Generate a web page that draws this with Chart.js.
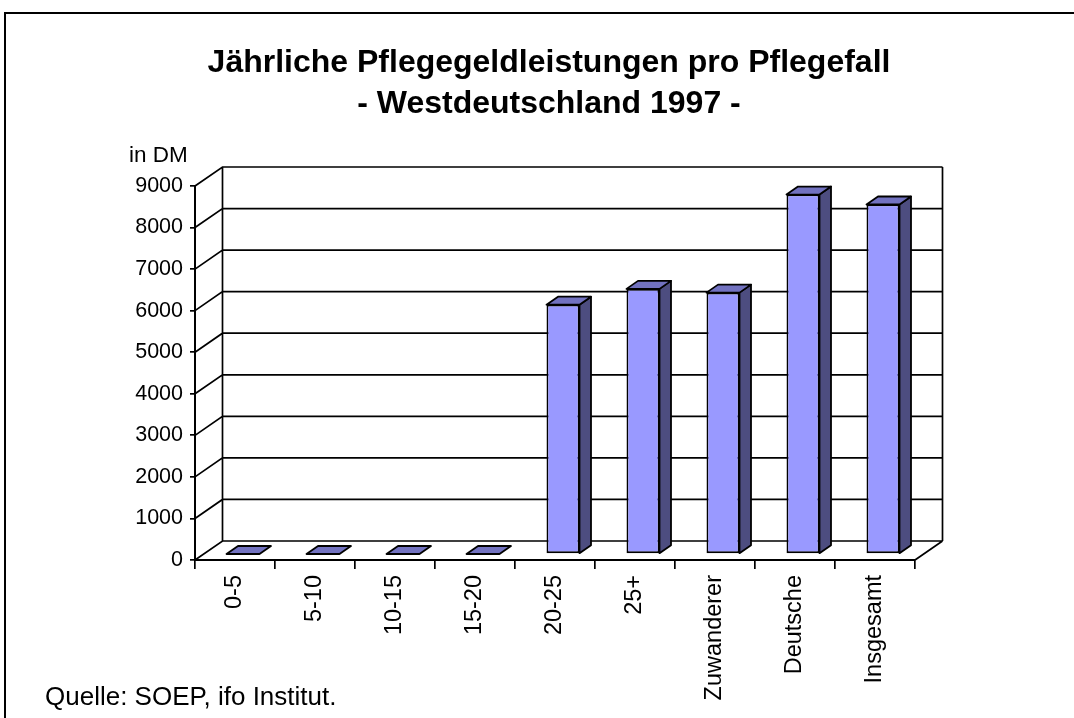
<!DOCTYPE html>
<html>
<head>
<meta charset="utf-8">
<script src="https://cdn.jsdelivr.net/npm/chart.js@4.4.1/dist/chart.umd.min.js"></script>
<style>
  html, body { margin: 0; padding: 0; background: #ffffff; }
  #wrap { width: 1074px; height: 718px; position: relative; }
</style>
</head>
<body>
<div id="wrap"><canvas id="c" width="1074" height="718"></canvas></div>
<script>
// ---- data ----
const categories = ['0-5', '5-10', '10-15', '15-20', '20-25', '25+', 'Zuwanderer', 'Deutsche', 'Insgesamt'];
const values = [0, 0, 0, 0, 6000, 6380, 6290, 8650, 8410];
const yTickLabels = ['0', '1000', '2000', '3000', '4000', '5000', '6000', '7000', '8000', '9000'];
const titleLines = ['Jährliche Pflegegeldleistungen pro Pflegefall', '- Westdeutschland 1997 -'];
const unitLabel = 'in DM';
const sourceLabel = 'Quelle: SOEP, ifo Institut.';

// ---- styling ----
const FONT = 'Arial, "Liberation Sans", Helvetica, sans-serif';
const WALL = { dx: 27.5, dy: -19 };     // depth of the 3D box
const BAR_FRONT = { dx: 8, dy: -6 };    // bar front plane offset
const BAR_DEPTH = { dx: 11.5, dy: -8 }; // bar thickness in depth
const FRONT_COLOR = '#9999ff';
const TOP_COLOR = '#7272c0';
const SIDE_COLOR = '#4d4d80';

const decor = {
  id: 'decor',
  beforeDraw(chart) {
    const ctx = chart.ctx;
    ctx.save();
    ctx.fillStyle = '#fff';
    ctx.fillRect(0, 0, chart.width, chart.height);
    ctx.strokeStyle = '#000';
    ctx.lineWidth = 2;
    ctx.strokeRect(5, 13, 1200, 900);
    // title
    ctx.fillStyle = '#000';
    ctx.textAlign = 'center';
    ctx.textBaseline = 'alphabetic';
    ctx.font = 'bold 32px ' + FONT;
    ctx.fillText(titleLines[0], 549, 72);
    ctx.fillText(titleLines[1], 549, 113);
    ctx.textAlign = 'left';
    ctx.font = '22.5px ' + FONT;
    ctx.fillText(unitLabel, 129, 162);
    ctx.font = '26px ' + FONT;
    ctx.fillText(sourceLabel, 45, 705);
    ctx.restore();
  },
  beforeDatasetsDraw(chart) {
    const ctx = chart.ctx;
    const y = chart.scales.y;
    const a = chart.chartArea;
    ctx.save();
    ctx.strokeStyle = '#000';
    ctx.lineWidth = 1.7;
    ctx.beginPath();
    y.ticks.forEach(t => {
      const py = y.getPixelForValue(t.value);
      ctx.moveTo(a.left, py);
      ctx.lineTo(a.left + WALL.dx, py + WALL.dy);
      ctx.lineTo(a.right + WALL.dx, py + WALL.dy);
    });
    const top = y.getPixelForValue(y.max), bot = y.getPixelForValue(y.min);
    ctx.moveTo(a.left + WALL.dx, top + WALL.dy);
    ctx.lineTo(a.left + WALL.dx, bot + WALL.dy);
    ctx.moveTo(a.right + WALL.dx, top + WALL.dy);
    ctx.lineTo(a.right + WALL.dx, bot + WALL.dy);
    ctx.moveTo(a.right, bot);
    ctx.lineTo(a.right + WALL.dx, bot + WALL.dy);
    ctx.stroke();
    ctx.restore();
    // shift bars into their depth plane
    ctx.save();
    ctx.translate(BAR_FRONT.dx, BAR_FRONT.dy);
  },
  afterDatasetsDraw(chart) {
    const ctx = chart.ctx;
    const meta = chart.getDatasetMeta(0);
    ctx.lineWidth = 1.8;
    ctx.strokeStyle = '#000';
    ctx.lineJoin = 'round';
    meta.data.forEach(bar => {
      const p = bar.getProps(['x', 'y', 'base', 'width'], true);
      const l = p.x - p.width / 2, r = p.x + p.width / 2;
      const t = Math.min(p.y, p.base), b = Math.max(p.y, p.base);
      const dx = BAR_DEPTH.dx, dy = BAR_DEPTH.dy;
      // side
      if (b - t > 0.5) {
        ctx.beginPath();
        ctx.moveTo(r, t); ctx.lineTo(r + dx, t + dy); ctx.lineTo(r + dx, b + dy); ctx.lineTo(r, b); ctx.closePath();
        ctx.fillStyle = SIDE_COLOR; ctx.fill(); ctx.stroke();
      }
      // top
      ctx.beginPath();
      ctx.moveTo(l, t); ctx.lineTo(r, t); ctx.lineTo(r + dx, t + dy); ctx.lineTo(l + dx, t + dy); ctx.closePath();
      ctx.fillStyle = TOP_COLOR; ctx.fill(); ctx.stroke();
    });
    ctx.restore();
  }
};

new Chart(document.getElementById('c'), {
  type: 'bar',
  data: {
    labels: categories,
    datasets: [{
      data: values,
      backgroundColor: FRONT_COLOR,
      borderColor: '#000',
      borderWidth: 1.8,
      borderSkipped: false,
      barPercentage: 0.4125,
      categoryPercentage: 1,
      clip: false
    }]
  },
  options: {
    responsive: false,
    animation: false,
    devicePixelRatio: 1,
    layout: { padding: { top: 186, left: 0, right: 159, bottom: 0 } },
    plugins: { legend: { display: false }, title: { display: false }, tooltip: { enabled: false } },
    scales: {
      x: {
        offset: true,
        afterFit(s) { s.height = 158; },
        grid: { offset: true, drawOnChartArea: false, drawTicks: true, tickLength: 9, color: '#000', lineWidth: 1.7 },
        border: { display: true, color: '#000', width: 2 },
        ticks: {
          autoSkip: false, minRotation: 90, maxRotation: 90, padding: 6,
          color: '#000', font: { family: FONT, size: 23.5 }
        }
      },
      y: {
        min: 0, max: 9000,
        afterFit(s) { s.width = 195; },
        grid: { drawOnChartArea: false, drawTicks: true, tickLength: 5, color: '#000', lineWidth: 1.7 },
        border: { display: true, color: '#000', width: 2 },
        ticks: {
          stepSize: 1000, padding: 7, color: '#000', font: { family: FONT, size: 21.5 },
          callback: (v, i) => yTickLabels[i]
        }
      }
    }
  },
  plugins: [decor]
});
</script>
</body>
</html>
